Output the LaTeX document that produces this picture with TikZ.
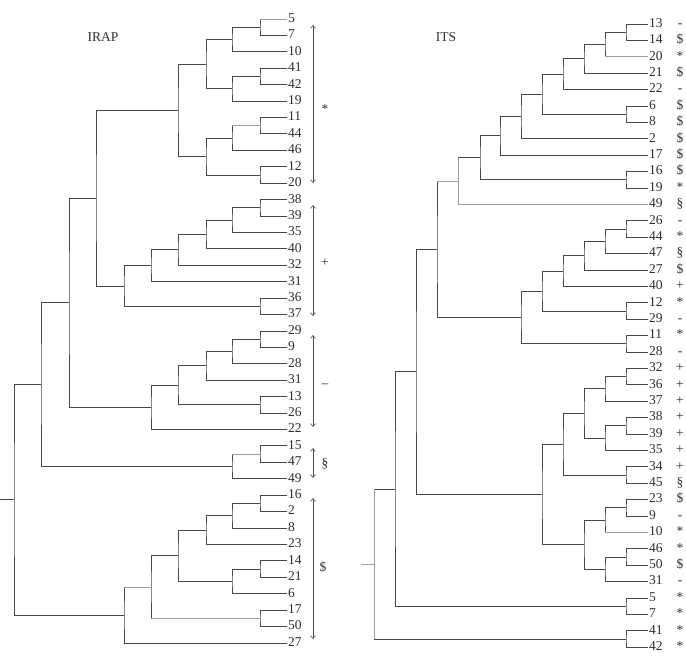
\documentclass[tikz,border=0pt]{standalone}
\usepackage{fontspec}
\setmainfont{Liberation Serif}
\usetikzlibrary{calc,arrows.meta}
\newcommand\jn[4]{%
  \coordinate (tmp) at ($(#3)!.5!(#4)$);
  \coordinate (#1) at (#2,0 |- tmp);
  \draw[ln] (#3) -| (#1) |- (#4);}
\begin{document}
\begin{tikzpicture}[x=1pt,y=-1pt,
  ln/.style={draw=black!72, line width=0.9pt},
  lt/.style={draw=black!38, line width=0.9pt},
  lab/.style={font=\fontsize{13.5}{15}\selectfont, text=black!82, inner sep=1pt, text height=0.676em, text depth=0pt},
  arr/.style={draw=black!70, line width=0.6pt, {Straight Barb[length=3pt,width=5pt]}-{Straight Barb[length=3pt,width=5pt]}}]
\useasboundingbox (0,0) rectangle (686,662);

% ---------- IRAP ----------
\node[lab] (t1) at (103,38) {IRAP};
\foreach \t [count=\i from 0] in {5,7,10,41,42,19,11,44,46,12,20,38,39,35,40,32,31,36,37,29,9,28,31,13,26,22,15,47,49,16,2,8,23,14,21,6,17,50,27}{
  \coordinate (la\i) at (287,{19+16.42*\i});
  \node[lab,anchor=west] (ta\i) at (la\i) {\t};}
\jn{A1}{260}{la0}{la1}
\jn{A2}{232}{A1}{la2}
\jn{A3}{260}{la3}{la4}
\jn{A4}{232}{A3}{la5}
\jn{A5}{206}{A2}{A4}
\jn{A6}{260}{la6}{la7}
\jn{A7}{232}{A6}{la8}
\jn{A8}{260}{la9}{la10}
\jn{A9}{206}{A7}{A8}
\jn{A10}{178}{A5}{A9}
\jn{B1}{260}{la11}{la12}
\jn{B2}{232}{B1}{la13}
\jn{B3}{206}{B2}{la14}
\jn{B4}{178}{B3}{la15}
\jn{B5}{151}{B4}{la16}
\jn{B6}{260}{la17}{la18}
\jn{B7}{124}{B5}{B6}
\jn{AB}{96}{A10}{B7}
\jn{C1}{260}{la19}{la20}
\jn{C2}{232}{C1}{la21}
\jn{C3}{206}{C2}{la22}
\jn{C4}{260}{la23}{la24}
\jn{C5}{178}{C3}{C4}
\jn{C6}{151}{C5}{la25}
\jn{ABC}{69}{AB}{C6}
\jn{D1}{260}{la26}{la27}
\jn{D2}{232}{D1}{la28}
\jn{ABCD}{41}{ABC}{D2}
\jn{E1}{260}{la29}{la30}
\jn{E2}{232}{E1}{la31}
\jn{E3}{206}{E2}{la32}
\jn{E4}{260}{la33}{la34}
\jn{E5}{232}{E4}{la35}
\jn{E6}{178}{E3}{E5}
\jn{E7}{260}{la36}{la37}
\jn{E8}{151}{E6}{E7}
\jn{E9}{124}{E8}{la38}
\jn{R}{14}{ABCD}{E9}
\coordinate (rs1) at (0,0 |- R);
\draw[ln] (rs1) -- (R);
% lighter segments
\draw[lt] (la0) -- (A1 |- la0);
\draw[lt] (A6) -- (A7 |- A6);
\draw[lt] (D1) -- (D2 |- D1);
\draw[lt] (E7) -- (E8 |- E7);
\draw[lt] (E8) -- (E9 |- E8);
% group arrows
\coordinate (g1a) at (313,25);  \coordinate (g1b) at (313,183);
\coordinate (g2a) at (313,205); \coordinate (g2b) at (313,316);
\coordinate (g3a) at (313,335); \coordinate (g3b) at (313,427);
\coordinate (g4a) at (313,448); \coordinate (g4b) at (313,478);
\coordinate (g5a) at (313,498); \coordinate (g5b) at (313,639);
\draw[arr] (g1a) -- (g1b);
\draw[arr] (g2a) -- (g2b);
\draw[arr] (g3a) -- (g3b);
\draw[arr] (g4a) -- (g4b);
\draw[arr] (g5a) -- (g5b);
\node[lab] (m1) at (325,110) {*};
\node[lab] (m2) at (325,263) {+};
\node[lab] (m3) at (325,384) {\textendash};
\node[lab] (m4) at (325,464) {§};
\node[lab] (m5) at (323,568) {\$};

% ---------- ITS ----------
\node[lab] (t2) at (446,38) {ITS};
\foreach \t/\s [count=\i from 0] in {13/-,14/\$,20/*,21/\$,22/-,6/\$,8/\$,2/\$,17/\$,16/\$,19/*,49/§,26/-,44/*,47/§,27/\$,40/+,12/*,29/-,11/*,28/-,32/+,36/+,37/+,38/+,39/+,35/+,34/+,45/§,23/\$,9/-,10/*,46/*,50/\$,31/-,5/*,7/*,41/*,42/*}{
  \coordinate (lb\i) at (648,{24+16.4*\i});
  \node[lab,anchor=west] (tb\i) at (lb\i) {\t};
  \node[lab] (sb\i) at (680,{24+16.4*\i}) {\s};}
\jn{P1}{626}{lb0}{lb1}
\jn{P2}{605}{P1}{lb2}
\jn{P3}{584}{P2}{lb3}
\jn{P4}{563}{P3}{lb4}
\jn{P5}{626}{lb5}{lb6}
\jn{P6}{542}{P4}{P5}
\jn{P7}{521}{P6}{lb7}
\jn{P8}{500}{P7}{lb8}
\jn{P9}{626}{lb9}{lb10}
\jn{P10}{480}{P8}{P9}
\jn{P11}{458}{P10}{lb11}
\jn{Q1}{626}{lb12}{lb13}
\jn{Q2}{605}{Q1}{lb14}
\jn{Q3}{584}{Q2}{lb15}
\jn{Q4}{563}{Q3}{lb16}
\jn{Q5}{626}{lb17}{lb18}
\jn{Q6}{542}{Q4}{Q5}
\jn{Q7}{626}{lb19}{lb20}
\jn{Q8}{521}{Q6}{Q7}
\jn{PQ}{437}{P11}{Q8}
\jn{S1}{626}{lb21}{lb22}
\jn{S2}{605}{S1}{lb23}
\jn{S3}{626}{lb24}{lb25}
\jn{S4}{605}{S3}{lb26}
\jn{S5}{584}{S2}{S4}
\jn{S6}{626}{lb27}{lb28}
\jn{S7}{563}{S5}{S6}
\jn{S8}{626}{lb29}{lb30}
\jn{S9}{605}{S8}{lb31}
\jn{S10}{626}{lb32}{lb33}
\jn{S11}{605}{S10}{lb34}
\jn{S12}{584}{S9}{S11}
\jn{S13}{542}{S7}{S12}
\jn{PQS}{416}{PQ}{S13}
\jn{T1}{626}{lb35}{lb36}
\jn{PQST}{395}{PQS}{T1}
\jn{U1}{626}{lb37}{lb38}
\jn{Rt}{374}{PQST}{U1}
\coordinate (rs2) at (361,0 |- Rt);
% lighter segments
\draw[lt] (lb2) -- (P2 |- lb2);
\draw[lt] (lb11) -| (P10 -| P11);
\draw[lt] (P11) -- (PQ |- P11);
\draw[lt] (lb31) -- (S9 |- lb31);
\draw[lt] (Rt |- PQST) -- (Rt |- U1);
\draw[lt] (rs2) -- (Rt);
\end{tikzpicture}
\end{document}
